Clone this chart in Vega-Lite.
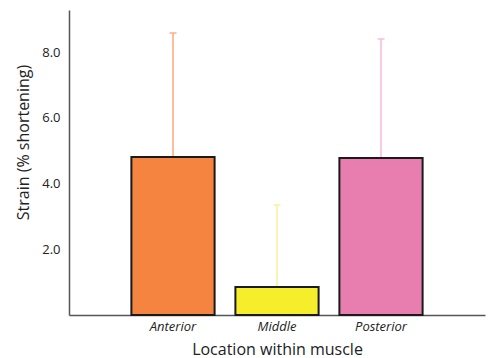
{
  "$schema": "https://vega.github.io/schema/vega-lite/v6.json",
  "autosize": "none",
  "width": 416,
  "height": 305,
  "padding": {"left": 69, "top": 10, "right": 7, "bottom": 43},
  "background": "white",
  "config": {"view": {"stroke": null}, "font": "Open Sans"},
  "data": {"values": [
    {"loc": "Anterior", "strain": 4.81, "upper": 8.58},
    {"loc": "Middle", "strain": 0.85, "upper": 3.35},
    {"loc": "Posterior", "strain": 4.78, "upper": 8.40}
  ]},
  "encoding": {
    "x": {"field": "loc", "type": "nominal", "sort": ["Anterior", "Middle", "Posterior"],
      "scale": {"paddingInner": 0.2, "paddingOuter": 0.6},
      "axis": {"title": "Location within muscle", "labelAngle": 0, "ticks": false, "labelPadding": 5,
        "labelFontStyle": "italic", "labelFontSize": 13, "labelColor": "#222", "domainColor": "#555", "domainWidth": 1.5,
        "titleFontSize": 16, "titleFontWeight": "normal", "titleColor": "#222", "titlePadding": 8}}
  },
  "layer": [
    {
      "mark": {"type": "rule", "strokeWidth": 1.5},
      "encoding": {
        "y": {"field": "strain", "type": "quantitative"},
        "y2": {"field": "upper"},
        "color": {"field": "loc", "type": "nominal", "legend": null,
          "scale": {"domain": ["Anterior", "Middle", "Posterior"], "range": ["#FFA87A", "#F8F09A", "#F7B8D6"]}}
      }
    },
    {
      "mark": {"type": "tick", "orient": "horizontal", "size": 7, "thickness": 2},
      "encoding": {
        "y": {"field": "upper", "type": "quantitative"},
        "color": {"field": "loc", "type": "nominal", "legend": null,
          "scale": {"domain": ["Anterior", "Middle", "Posterior"], "range": ["#FFA87A", "#F8F09A", "#F7B8D6"]}}
      }
    },
    {
      "mark": {"type": "bar", "stroke": "#1a1a1a", "strokeWidth": 2},
      "encoding": {
        "y": {"field": "strain", "type": "quantitative",
          "scale": {"domain": [0, 9.28], "nice": false, "zero": true},
          "axis": {"title": "Strain (% shortening)", "values": [2, 4, 6, 8], "format": ".1f", "ticks": false, "grid": false,
            "labelPadding": 9, "labelFontSize": 13, "labelColor": "#222", "domainColor": "#555", "domainWidth": 1.5,
            "titleFontSize": 16, "titleFontWeight": "normal", "titleColor": "#222", "titlePadding": 10, "titleY": 132}},
        "fill": {"field": "loc", "type": "nominal", "legend": null,
          "scale": {"domain": ["Anterior", "Middle", "Posterior"], "range": ["#F4843F", "#F7EE2B", "#E87DB0"]}}
      }
    }
  ],
  "resolve": {"scale": {"color": "shared"}}
}
